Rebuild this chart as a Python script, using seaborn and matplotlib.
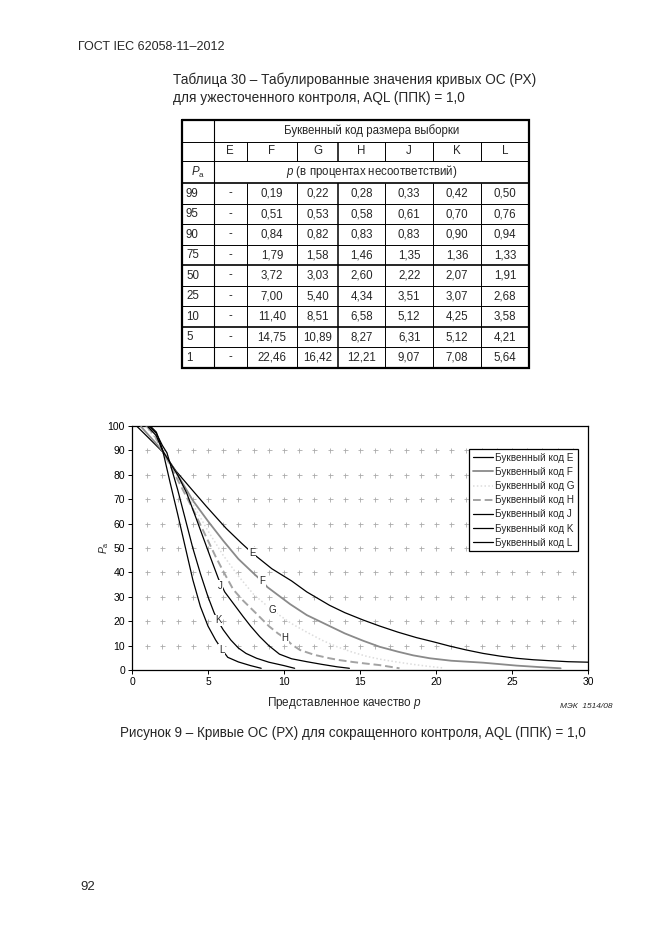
import numpy as np
import pandas as pd
import matplotlib
matplotlib.use("Agg")
import matplotlib.pyplot as plt
import seaborn as sns

# ---------------- data ----------------
codes = ["E", "F", "G", "H", "J", "K", "L"]

E_p = [0.35, 1.0, 2.0, 2.9, 4.0, 4.9, 6.2, 7.2, 7.9, 8.2, 9.2, 10.5, 11.5, 13.0, 14.0, 15.2,
       16.3, 17.5, 18.7, 19.8, 20.9, 22.0, 23.1, 24.2, 25.3, 26.4, 27.5, 28.7, 30.0]
E_pa = [99.7, 95.7, 89.5, 81.5, 73.5, 67.0, 58.0, 52.0, 48.0, 46.5, 41.5, 36.5, 32.0, 26.5, 23.5, 20.5,
        18.0, 15.5, 13.3, 11.6, 9.8, 8.2, 6.8, 5.7, 4.8, 4.2, 3.8, 3.4, 3.2]

F_p = [0.6, 1.2, 2.0, 3.0, 4.0, 5.0, 6.0, 7.0, 8.1, 8.55, 8.9, 10.4, 11.5, 13.0, 14.0, 15.2,
       16.3, 17.5, 18.5, 19.6, 21.0, 23.1, 25.3, 26.8, 28.2]
F_pa = [99.7, 95.5, 90.0, 80.0, 69.5, 61.0, 53.0, 45.5, 39.0, 36.5, 34.0, 27.0, 22.5, 18.0, 15.0, 12.0,
        9.5, 7.5, 6.0, 4.8, 3.8, 3.0, 1.8, 1.2, 0.7]

G_p = [0.9, 1.4, 2.0, 3.0, 4.0, 5.0, 6.0, 7.0, 8.0, 9.2, 10.5, 11.5, 12.5, 13.5, 14.5, 15.5,
       16.5, 17.5, 18.5, 19.5, 20.5]
G_pa = [99.7, 96.0, 90.0, 79.0, 68.0, 57.0, 47.0, 38.5, 31.0, 24.6, 19.0, 15.5, 12.2, 9.5, 7.3, 5.5,
        4.2, 3.2, 2.3, 1.5, 0.8]

H_p = [1.0, 1.5, 2.0, 2.5, 3.0, 3.5, 4.0, 4.5, 5.0, 5.5, 6.0, 6.66, 7.3, 8.2, 9.0, 9.6, 10.07,
       10.5, 11.05, 12.0, 13.0, 13.6, 14.5, 15.3, 16.3, 17.6]
H_pa = [99.7, 96.0, 90.0, 84.0, 78.0, 72.0, 66.0, 59.5, 53.0, 46.5, 40.5, 33.0, 28.5, 23.0, 18.0, 15.0, 13.0,
        10.5, 8.2, 6.2, 4.8, 4.1, 3.3, 2.7, 2.0, 0.7]

J_p = [1.05, 1.6, 2.0, 2.5, 3.0, 3.6, 4.2, 4.7, 5.2, 5.68, 6.1, 6.7, 7.3, 7.8, 8.4, 9.0, 9.7,
       10.5, 11.5, 12.5, 13.5, 14.3]
J_pa = [99.7, 96.0, 90.0, 85.0, 80.0, 72.5, 62.5, 54.0, 45.5, 37.5, 32.0, 27.0, 22.0, 18.0, 13.7, 10.0, 6.5,
        4.6, 3.4, 2.3, 1.3, 0.7]

K_p = [1.15, 1.6, 2.0, 2.3, 3.0, 3.5, 4.0, 4.5, 5.0, 5.4, 5.66, 6.0, 6.5, 7.0, 7.5, 8.2, 9.0, 10.0, 10.7]
K_pa = [99.7, 97.0, 92.0, 89.0, 74.0, 62.0, 50.0, 39.5, 30.0, 23.5, 20.0, 16.5, 12.3, 9.0, 6.8, 4.8, 3.2, 1.8, 0.7]

L_p = [1.25, 1.6, 2.0, 2.5, 3.0, 3.5, 4.0, 4.5, 5.0, 5.5, 5.9, 6.3, 7.0, 7.8, 8.5]
L_pa = [99.7, 97.5, 90.5, 77.0, 64.0, 50.5, 37.0, 26.0, 18.0, 12.3, 8.5, 5.2, 3.3, 1.8, 0.7]

# positions of in-chart curve labels (on the curves)
label_p = [7.9, 8.55, 9.2, 10.07, 5.8, 5.66, 5.9]
label_pa = [48.0, 36.3, 24.6, 13.1, 34.5, 20.3, 8.3]

# table 30 values
table_pa = [99, 95, 90, 75, 50, 25, 10, 5, 1]
tab_E = [None] * 9
tab_F = [0.19, 0.51, 0.84, 1.79, 3.72, 7.00, 11.40, 14.75, 22.46]
tab_G = [0.22, 0.53, 0.82, 1.58, 3.03, 5.40, 8.51, 10.89, 16.42]
tab_H = [0.28, 0.58, 0.83, 1.46, 2.60, 4.34, 6.58, 8.27, 12.21]
tab_J = [0.33, 0.61, 0.83, 1.35, 2.22, 3.51, 5.12, 6.31, 9.07]
tab_K = [0.42, 0.70, 0.90, 1.36, 2.07, 3.07, 4.25, 5.12, 7.08]
tab_L = [0.50, 0.76, 0.94, 1.33, 1.91, 2.68, 3.58, 4.21, 5.64]

x_ticks = [0, 5, 10, 15, 20, 25, 30]
y_ticks = [0, 10, 20, 30, 40, 50, 60, 70, 80, 90, 100]

# ---------------- style ----------------
sns.set_style("ticks")
plt.rcParams["font.family"] = ["Liberation Sans", "DejaVu Sans"]
plt.rcParams["mathtext.fontset"] = "custom"
plt.rcParams["mathtext.rm"] = "Liberation Sans"
plt.rcParams["mathtext.it"] = "Liberation Sans:italic"
plt.rcParams["mathtext.bf"] = "Liberation Sans:bold"

W, H = 661, 935
fig = plt.figure(figsize=(W / 100, H / 100), dpi=100)
fig.patch.set_facecolor("white")

# page axes in pixel coordinates
pg = fig.add_axes([0, 0, 1, 1], zorder=0)
pg.set_xlim(0, W)
pg.set_ylim(H, 0)
pg.axis("off")

pg.text(78, 47, "ГОСТ IEC 62058-11–2012", fontsize=9, ha="left", va="center")
pg.text(173, 80, "Таблица 30 – Табулированные значения кривых ОС (РХ)", fontsize=9.8, ha="left", va="center")
pg.text(173, 98, "для ужесточенного контроля, AQL (ППК) = 1,0", fontsize=9.8, ha="left", va="center")

# ---- table ----
xe = [182, 214, 246.7, 297.3, 338.3, 385, 433.3, 481, 529]
y_h = [120, 141.7, 160.7, 183.3]
row_h = 20.5
y_rows = [183.3 + row_h * k for k in range(10)]
t_top, t_bot = 120, y_rows[-1]

def hline(y, lw=0.7):
    pg.plot([xe[0], xe[-1]], [y, y], color="black", lw=lw, solid_capstyle="butt")

def vline(x, y0, y1, lw=0.7):
    pg.plot([x, x], [y0, y1], color="black", lw=lw, solid_capstyle="butt")

for y in y_h[1:]:
    hline(y, 1.2 if y == 183.3 else 0.7)
for k, y in enumerate(y_rows[1:-1], start=1):
    hline(y, 1.2 if k in (4, 7) else 0.7)
vline(xe[1], t_top, t_bot, 0.8)
for i, x in enumerate(xe[2:-1]):
    lw = 1.1 if abs(x - 338.3) < 1 else 0.7
    vline(x, y_h[1], y_h[2], lw)
    vline(x, y_h[3], t_bot, lw)
# outer frame
pg.plot([xe[0], xe[-1], xe[-1], xe[0], xe[0]], [t_top, t_top, t_bot, t_bot, t_top],
        color="black", lw=1.6, solid_joinstyle="miter")

cx = [(xe[i] + xe[i + 1]) / 2 for i in range(len(xe) - 1)]
tfs = 8.3
pg.text((xe[1] + xe[-1]) / 2, (y_h[0] + y_h[1]) / 2, "Буквенный код размера выборки",
        fontsize=tfs, ha="center", va="center")
for i, c in enumerate(codes):
    pg.text(cx[i + 1], (y_h[1] + y_h[2]) / 2, c, fontsize=tfs, ha="center", va="center")
pg.text(cx[0], (y_h[2] + y_h[3]) / 2, r"$P_{\mathrm{a}}$", fontsize=tfs, ha="center", va="center")
pg.text((xe[1] + xe[-1]) / 2, (y_h[2] + y_h[3]) / 2, r"$p$ (в процентах несоответствий)",
        fontsize=tfs, ha="center", va="center")

cols = [tab_E, tab_F, tab_G, tab_H, tab_J, tab_K, tab_L]
for r, pa in enumerate(table_pa):
    yc = y_rows[r] + row_h / 2
    pg.text(xe[0] + 4, yc, str(pa), fontsize=tfs, ha="left", va="center")
    for j, col in enumerate(cols):
        v = col[r]
        s = "-" if v is None else f"{v:.2f}".replace(".", ",")
        pg.text(cx[j + 1], yc, s, fontsize=tfs, ha="center", va="center")

# ---- chart ----
ax = fig.add_axes([132 / W, 1 - 670 / H, 456 / W, 244 / H], zorder=2)
ax.set_facecolor("none")

gx, gy = np.meshgrid(np.arange(1, 30), np.arange(10, 100, 10))
ax.plot(gx.ravel(), gy.ravel(), linestyle="none", marker="+", color="#ababab",
        ms=3.6, mew=0.6, zorder=0.5, label="_nolegend_")

curves = {"E": (E_p, E_pa), "F": (F_p, F_pa), "G": (G_p, G_pa), "H": (H_p, H_pa),
          "J": (J_p, J_pa), "K": (K_p, K_pa), "L": (L_p, L_pa)}
rows = []
for c in codes:
    for p, pa in zip(*curves[c]):
        rows.append({"code": c, "p": p, "pa": pa})
df = pd.DataFrame(rows)

styles = {
    "E": dict(color="black", lw=0.9, linestyle="-"),
    "F": dict(color="#8a8a8a", lw=1.3, linestyle="-"),
    "G": dict(color="#dcdcdc", lw=1.1, linestyle=(0, (1, 1.5))),
    "H": dict(color="#a3a3a3", lw=1.4, linestyle=(0, (4, 2))),
    "J": dict(color="black", lw=0.9, linestyle="-"),
    "K": dict(color="black", lw=0.9, linestyle="-"),
    "L": dict(color="black", lw=0.9, linestyle="-"),
}
for c in codes:
    sns.lineplot(data=df[df["code"] == c], x="p", y="pa", sort=False, estimator=None,
                 ax=ax, label=f"Буквенный код {c}", zorder=3, **styles[c])

for c, lp, lpa in zip(codes, label_p, label_pa):
    ax.text(lp, lpa, c, fontsize=7, ha="center", va="center", zorder=6,
            bbox=dict(facecolor="white", edgecolor="none", pad=0.6))

ax.set_xlim(0, 30)
ax.set_ylim(0, 100)
ax.set_xticks(x_ticks)
ax.set_yticks(y_ticks)
ax.set_xlabel("")
ax.set_ylabel("")
ax.tick_params(axis="both", length=3, width=0.7, labelsize=7.5, pad=2, colors="black")
for s in ax.spines.values():
    s.set_visible(True)
    s.set_color("black")
    s.set_linewidth(0.9)

leg = ax.legend(loc="upper right", bbox_to_anchor=(0.978, 0.905), fontsize=7.2, frameon=True,
                fancybox=False, edgecolor="black", framealpha=1, borderpad=0.35,
                labelspacing=0.42, handlelength=2.0, handletextpad=0.2, borderaxespad=0)
leg.get_frame().set_linewidth(0.9)

pg.text(104, 548, r"$P_{\mathrm{a}}$", fontsize=7.5, rotation=90, ha="center", va="center")
pg.text(344, 703, r"Представленное качество $p$", fontsize=8.5, ha="center", va="center")
pg.text(613, 706, "МЭК  1514/08", fontsize=6, style="italic", ha="right", va="center")
pg.text(120, 733, "Рисунок 9 – Кривые ОС (РХ) для сокращенного контроля, AQL (ППК) = 1,0",
        fontsize=9.75, ha="left", va="center")
pg.text(80, 887, "92", fontsize=9.5, ha="left", va="center")

fig.savefig("out.png", dpi=100, facecolor="white")
